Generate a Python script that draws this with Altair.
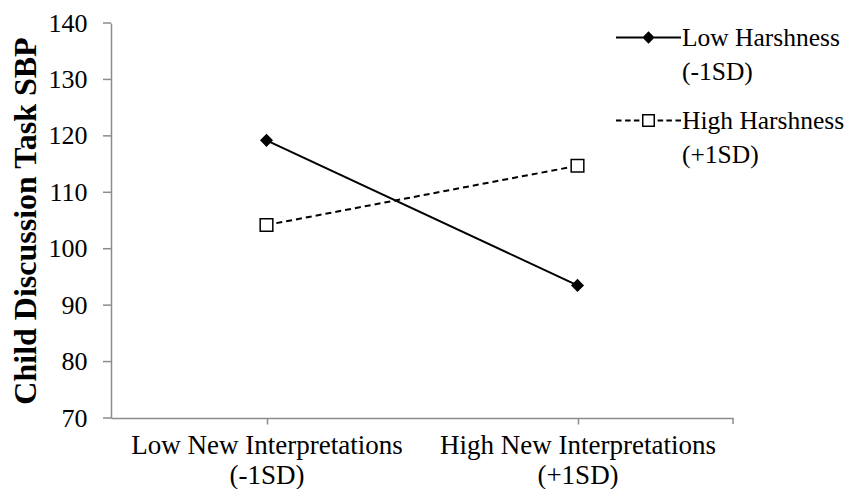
import altair as alt
import pandas as pd

# ---- data ----
categories = ["Low New Interpretations\n(-1SD)", "High New Interpretations\n(+1SD)"]
series = ["Low Harshness\n(-1SD)", "High Harshness\n(+1SD)"]
low_harsh = [119.2, 93.5]
high_harsh = [104.2, 114.7]
y_ticks = [70, 80, 90, 100, 110, 120, 130, 140]
y_domain = [70, 140]

FONT = "Liberation Serif"
GRAY = "#8c8c8c"

df = pd.DataFrame({
    "cond": categories + categories,
    "series": [series[0]] * 2 + [series[1]] * 2,
    "sbp": low_harsh + high_harsh,
})
ticks_df = pd.DataFrame({"sbp": y_ticks})

x = alt.X(
    "cond:N", sort=categories,
    scale=alt.Scale(type="point", padding=0.5),
    axis=alt.Axis(title=None, labelAngle=0, labelExpr="split(datum.label, '\\n')",
                  labelFont=FONT, labelFontSize=27, labelColor="black",
                  labelPadding=8, labelLineHeight=30, labelLimit=500, labelOverlap=False,
                  labelBound=False, tickSize=6, tickColor=GRAY, tickWidth=1.5,
                  domainColor=GRAY, domainWidth=1.5),
)
y = alt.Y(
    "sbp:Q",
    scale=alt.Scale(domain=y_domain, nice=False, zero=False),
    axis=alt.Axis(values=y_ticks, grid=False, title="Child Discussion Task SBP",
                  titleFont=FONT, titleFontSize=32, titleFontWeight="bold", titleColor="black",
                  titlePadding=6, labelFont=FONT, labelFontSize=26, labelColor="black",
                  labelAlign="right", labelPadding=4, labelOverlap=False,
                  ticks=True, tickSize=20, tickOpacity=0,
                  domainColor=GRAY, domainWidth=1.5),
)


def only(name):
    return alt.FieldEqualPredicate(field="series", equal=name)


line_low = alt.Chart(df).transform_filter(only(series[0])).mark_line(
    color="black", strokeWidth=2).encode(x=x, y=y)
line_high = alt.Chart(df).transform_filter(only(series[1])).mark_line(
    color="black", strokeWidth=2, strokeDash=[6, 4]).encode(x=x, y=y)

pts_low = alt.Chart(df).transform_filter(only(series[0])).mark_point(
    shape="diamond", filled=True, size=170, color="black", opacity=1).encode(x=x, y=y)
pts_high = alt.Chart(df).transform_filter(only(series[1])).mark_point(
    shape="square", filled=True, fill="white", stroke="black", strokeWidth=1.5,
    size=160, opacity=1).encode(x=x, y=y)

# legend glyphs (line + marker), drawn as filled shapes in unit coordinates
h = 0.03
path_low = (f"M-1,{-h}H1V{h}H-1Z M0,-0.19L0.19,0L0,0.19L-0.19,0Z")
segs = [(-1, -0.83), (-0.72, -0.55), (-0.45, -0.28), (0.28, 0.45), (0.55, 0.72), (0.83, 1)]
path_high = " ".join(f"M{a},{-h}H{b}V{h}H{a}Z" for a, b in segs) + \
    " M-0.2,-0.2H0.2V0.2H-0.2Z M-0.154,-0.154V0.154H0.154V-0.154Z"

leg = alt.Legend(title=None, orient="none", legendX=504, legendY=-19, padding=0,
                 labelFont=FONT, labelFontSize=25.5, labelColor="black",
                 labelExpr="split(datum.label, '\\n')", labelBaseline="middle",
                 labelOffset=0, labelLimit=400, symbolSize=4225, symbolOpacity=1,
                 symbolFillColor="black", rowPadding=2)

legend_layer = alt.Chart(df).mark_point(filled=True, size=0).encode(
    x=x, y=y,
    shape=alt.Shape("series:N", scale=alt.Scale(domain=series, range=[path_low, path_high]),
                    legend=leg),
    fill=alt.value("black"),
    opacity=alt.value(1),
)

# short outward tick marks of the value axis
y_tick_marks = alt.Chart(ticks_df).mark_rule(color=GRAY, strokeWidth=1.5).encode(
    y=y, x=alt.value(-8), x2=alt.value(0)
)

end_tick = alt.Chart(pd.DataFrame({"a": [0]})).mark_rule(color=GRAY, strokeWidth=1.5).encode(
    x=alt.value(622), y=alt.value(395), y2=alt.value(401)
)

chart = alt.layer(line_low, line_high, pts_low, pts_high, legend_layer,
                  y_tick_marks, end_tick).properties(
    width=622, height=395,
    padding={"left": 103, "top": 15, "right": 115, "bottom": 71},
    autosize=alt.AutoSizeParams(type="none"),
).configure(
    view={"stroke": "transparent"},
    style={"guide-label": {"lineHeight": 34}},
)

chart.save("out.html", embed_options={"renderer": "svg", "actions": False})
